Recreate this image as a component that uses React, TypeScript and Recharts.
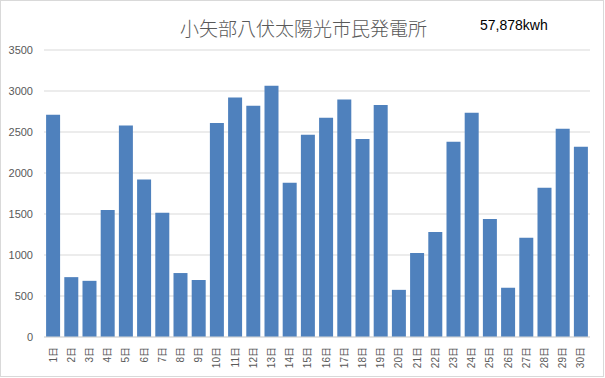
import React from "react";
import { BarChart, Bar, XAxis, YAxis, CartesianGrid } from "recharts";

// 日別発電量 (kWh)
const days = [
  "1日", "2日", "3日", "4日", "5日", "6日", "7日", "8日", "9日", "10日",
  "11日", "12日", "13日", "14日", "15日", "16日", "17日", "18日", "19日", "20日",
  "21日", "22日", "23日", "24日", "25日", "26日", "27日", "28日", "29日", "30日",
];
const kwh = [
  2710, 730, 685, 1550, 2580, 1920, 1515, 780, 695, 2610,
  2920, 2820, 3065, 1880, 2465, 2675, 2895, 2415, 2830, 575,
  1025, 1280, 2380, 2735, 1440, 600, 1210, 1820, 2540, 2320,
];
const yTicks = [0, 500, 1000, 1500, 2000, 2500, 3000, 3500];

const title = "小矢部八伏太陽光市民発電所";
const totalLabel = "57,878kwh";

const data = days.map((day, i) => ({ day, kwh: kwh[i] }));

const axisColor = "#595959";
const gridColor = "#d9d9d9";

function DayTick(props: any) {
  const { x, y, payload } = props;
  return (
    <text
      x={x}
      y={y + 2}
      transform={`rotate(-90, ${x}, ${y + 2})`}
      textAnchor="end"
      dy="0.35em"
      fontSize={10}
      fill={axisColor}
      fontFamily="'Liberation Sans', 'Noto Sans CJK JP', sans-serif"
    >
      {payload.value}
    </text>
  );
}

export default function App() {
  return (
    <div
      style={{
        position: "absolute",
        left: 0,
        top: 0,
        width: 604,
        height: 377,
        border: `1px solid ${gridColor}`,
        boxSizing: "border-box",
        background: "#fff",
      }}
    >
      <div
        style={{
          position: "absolute",
          left: 0,
          width: 605,
          top: 15,
          textAlign: "center",
          fontFamily: "'Noto Sans CJK JP', sans-serif",
          fontWeight: 300,
          fontSize: 19,
          lineHeight: "24px",
          color: axisColor,
        }}
      >
        {title}
      </div>
      <div
        style={{
          position: "absolute",
          left: 479,
          top: 16,
          fontFamily: "'Liberation Sans', sans-serif",
          fontSize: 14,
          lineHeight: "16px",
          color: "#000",
        }}
      >
        {totalLabel}
      </div>
      <div style={{ position: "absolute", left: -1, top: -1 }}>
        <BarChart
          width={605}
          height={378}
          data={data}
          margin={{ top: 50, right: 15, bottom: 0, left: 0 }}
          barCategoryGap="11.5%"
        >
          <CartesianGrid vertical={false} stroke={gridColor} strokeWidth={1} />
          <XAxis
            dataKey="day"
            interval={0}
            height={41}
            tickLine={false}
            axisLine={{ stroke: gridColor }}
            tick={<DayTick />}
          />
          <YAxis
            width={44}
            domain={[0, 3500]}
            ticks={yTicks}
            tickLine={false}
            axisLine={false}
            tickMargin={5}
            tick={{ fontSize: 11, fill: axisColor, fontFamily: "'Liberation Sans', sans-serif" }}
          />
          <Bar dataKey="kwh" fill="#4f81bd" isAnimationActive={false} />
        </BarChart>
      </div>
    </div>
  );
}
